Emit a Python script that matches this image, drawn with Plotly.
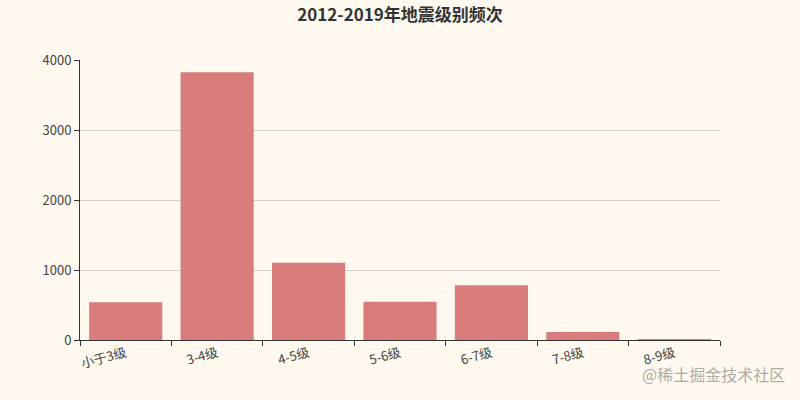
import plotly.graph_objects as go

levels = ["小于3级", "3-4级", "4-5级", "5-6级", "6-7级", "7-8级", "8-9级"]
counts = [540, 3826, 1104, 545, 783, 115, 14]
y_ticks = [0, 1000, 2000, 3000, 4000]

font_family = "Noto Sans CJK SC, Noto Sans, sans-serif"

fig = go.Figure()
fig.add_trace(go.Bar(
    x=levels,
    y=counts,
    marker=dict(color="#d87c7c", line=dict(width=0)),
))

fig.update_layout(
    width=800,
    height=400,
    paper_bgcolor="#fef8ef",
    plot_bgcolor="#fef8ef",
    font=dict(family=font_family, size=12, color="#333333"),
    title=dict(
        text="<b>2012-2019年地震级别频次</b>",
        x=0.5,
        xanchor="center",
        y=0.978,
        yanchor="top",
        font=dict(size=17, color="#333333"),
    ),
    margin=dict(l=80, r=80, t=60, b=60),
    bargap=0.2,
    showlegend=False,
    xaxis=dict(
        showline=True,
        linecolor="#333333",
        linewidth=1,
        ticks="outside",
        tickson="boundaries",
        ticklen=5,
        tickcolor="#333333",
        tickangle=-15,
        showgrid=False,
        tickfont=dict(size=13, color="#444444"),
    ),
    yaxis=dict(
        range=[0, 4000],
        tickvals=y_ticks,
        showline=True,
        linecolor="#333333",
        linewidth=1,
        ticks="outside",
        ticklen=5,
        tickcolor="#333333",
        showgrid=True,
        gridcolor="#d6d2cb",
        zeroline=False,
        tickfont=dict(size=13, color="#444444"),
    ),
)

fig.add_annotation(
    text="@稀土掘金技术社区",
    xref="paper", yref="paper",
    x=1.105, y=-0.171,
    xanchor="right", yanchor="bottom",
    showarrow=False,
    font=dict(size=16, color="#b0aca6"),
)

# page body has a default 8px margin, drop it so the chart fills the window
fig.write_html(
    "out.html",
    config={"displayModeBar": False},
    post_script="document.body.style.margin='0';",
)
